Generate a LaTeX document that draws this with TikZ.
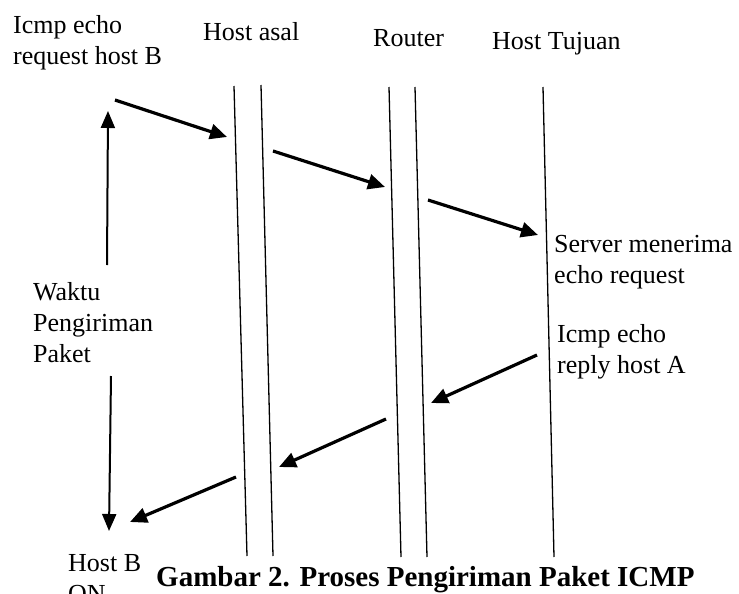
\documentclass[tikz,border=0pt]{standalone}
\usepackage{fontspec}
\setmainfont{Liberation Serif}
\usetikzlibrary{arrows.meta}
\begin{document}
\begin{tikzpicture}[x=1pt,y=-1pt,
  lbl/.style={anchor=base west,inner sep=0pt,align=left,
    font=\fontsize{26}{31}\selectfont},
  caption/.style={anchor=base west,inner sep=0pt,
    font=\fontsize{29}{34}\selectfont\bfseries},
  lifeline/.style={line width=1.3pt},
  msg/.style={line width=3.2pt,-{Triangle[length=17pt,width=15pt]}},
  timeline/.style={line width=2pt,-{Triangle[length=17pt,width=14pt]}}]
\useasboundingbox (0,0) rectangle (739,594);
\clip (0,0) rectangle (739,594);

% column headings and side notes (multi-line nodes sit on their last baseline)
\node[lbl] (req)    at (13,65)  {Icmp echo\\request host B};
\node[lbl] (hasal)  at (203,41) {Host asal};
\node[lbl] (router) at (373,47) {Router};
\node[lbl] (htuj)   at (492,49) {Host Tujuan};
\node[lbl] (srv)    at (554,283) {Server menerima\\echo request};
\node[lbl] (rep)    at (557,373) {Icmp echo\\reply host A};
\node[lbl] (waktu)  at (33,362) {Waktu\\Pengiriman\\Paket};
\node[lbl] (hostb)  at (68,602) {Host B\\ON};
\node[caption] (cap) at (156,586) {Gambar 2. Proses Pengiriman Paket ICMP};

% lifelines
\coordinate (a1t) at (234,86);  \coordinate (a1b) at (247,556);
\coordinate (a2t) at (261,85);  \coordinate (a2b) at (273,556);
\coordinate (r1t) at (389,87);  \coordinate (r1b) at (401,557);
\coordinate (r2t) at (415,87);  \coordinate (r2b) at (427,557);
\coordinate (tt)  at (543,87);  \coordinate (tb)  at (554,557);
\draw[lifeline] (a1t) -- (a1b);
\draw[lifeline] (a2t) -- (a2b);
\draw[lifeline] (r1t) -- (r1b);
\draw[lifeline] (r2t) -- (r2b);
\draw[lifeline] (tt) -- (tb);

% request path
\coordinate (m1s) at (115,100); \coordinate (m1e) at (227,137);
\coordinate (m2s) at (273,151); \coordinate (m2e) at (385,187);
\coordinate (m3s) at (428,200); \coordinate (m3e) at (538,235);
\draw[msg] (m1s) -- (m1e);
\draw[msg] (m2s) -- (m2e);
\draw[msg] (m3s) -- (m3e);

% reply path
\coordinate (m4s) at (537,355); \coordinate (m4e) at (431,403);
\coordinate (m5s) at (386,419); \coordinate (m5e) at (279,467);
\coordinate (m6s) at (236,477); \coordinate (m6e) at (130,522);
\draw[msg] (m4s) -- (m4e);
\draw[msg] (m5s) -- (m5e);
\draw[msg] (m6s) -- (m6e);

% elapsed time
\coordinate (upS) at (107,265); \coordinate (upE) at (108,111);
\coordinate (dnS) at (111,376); \coordinate (dnE) at (109,531);
\draw[timeline] (upS) -- (upE);
\draw[timeline] (dnS) -- (dnE);
\end{tikzpicture}
\end{document}
